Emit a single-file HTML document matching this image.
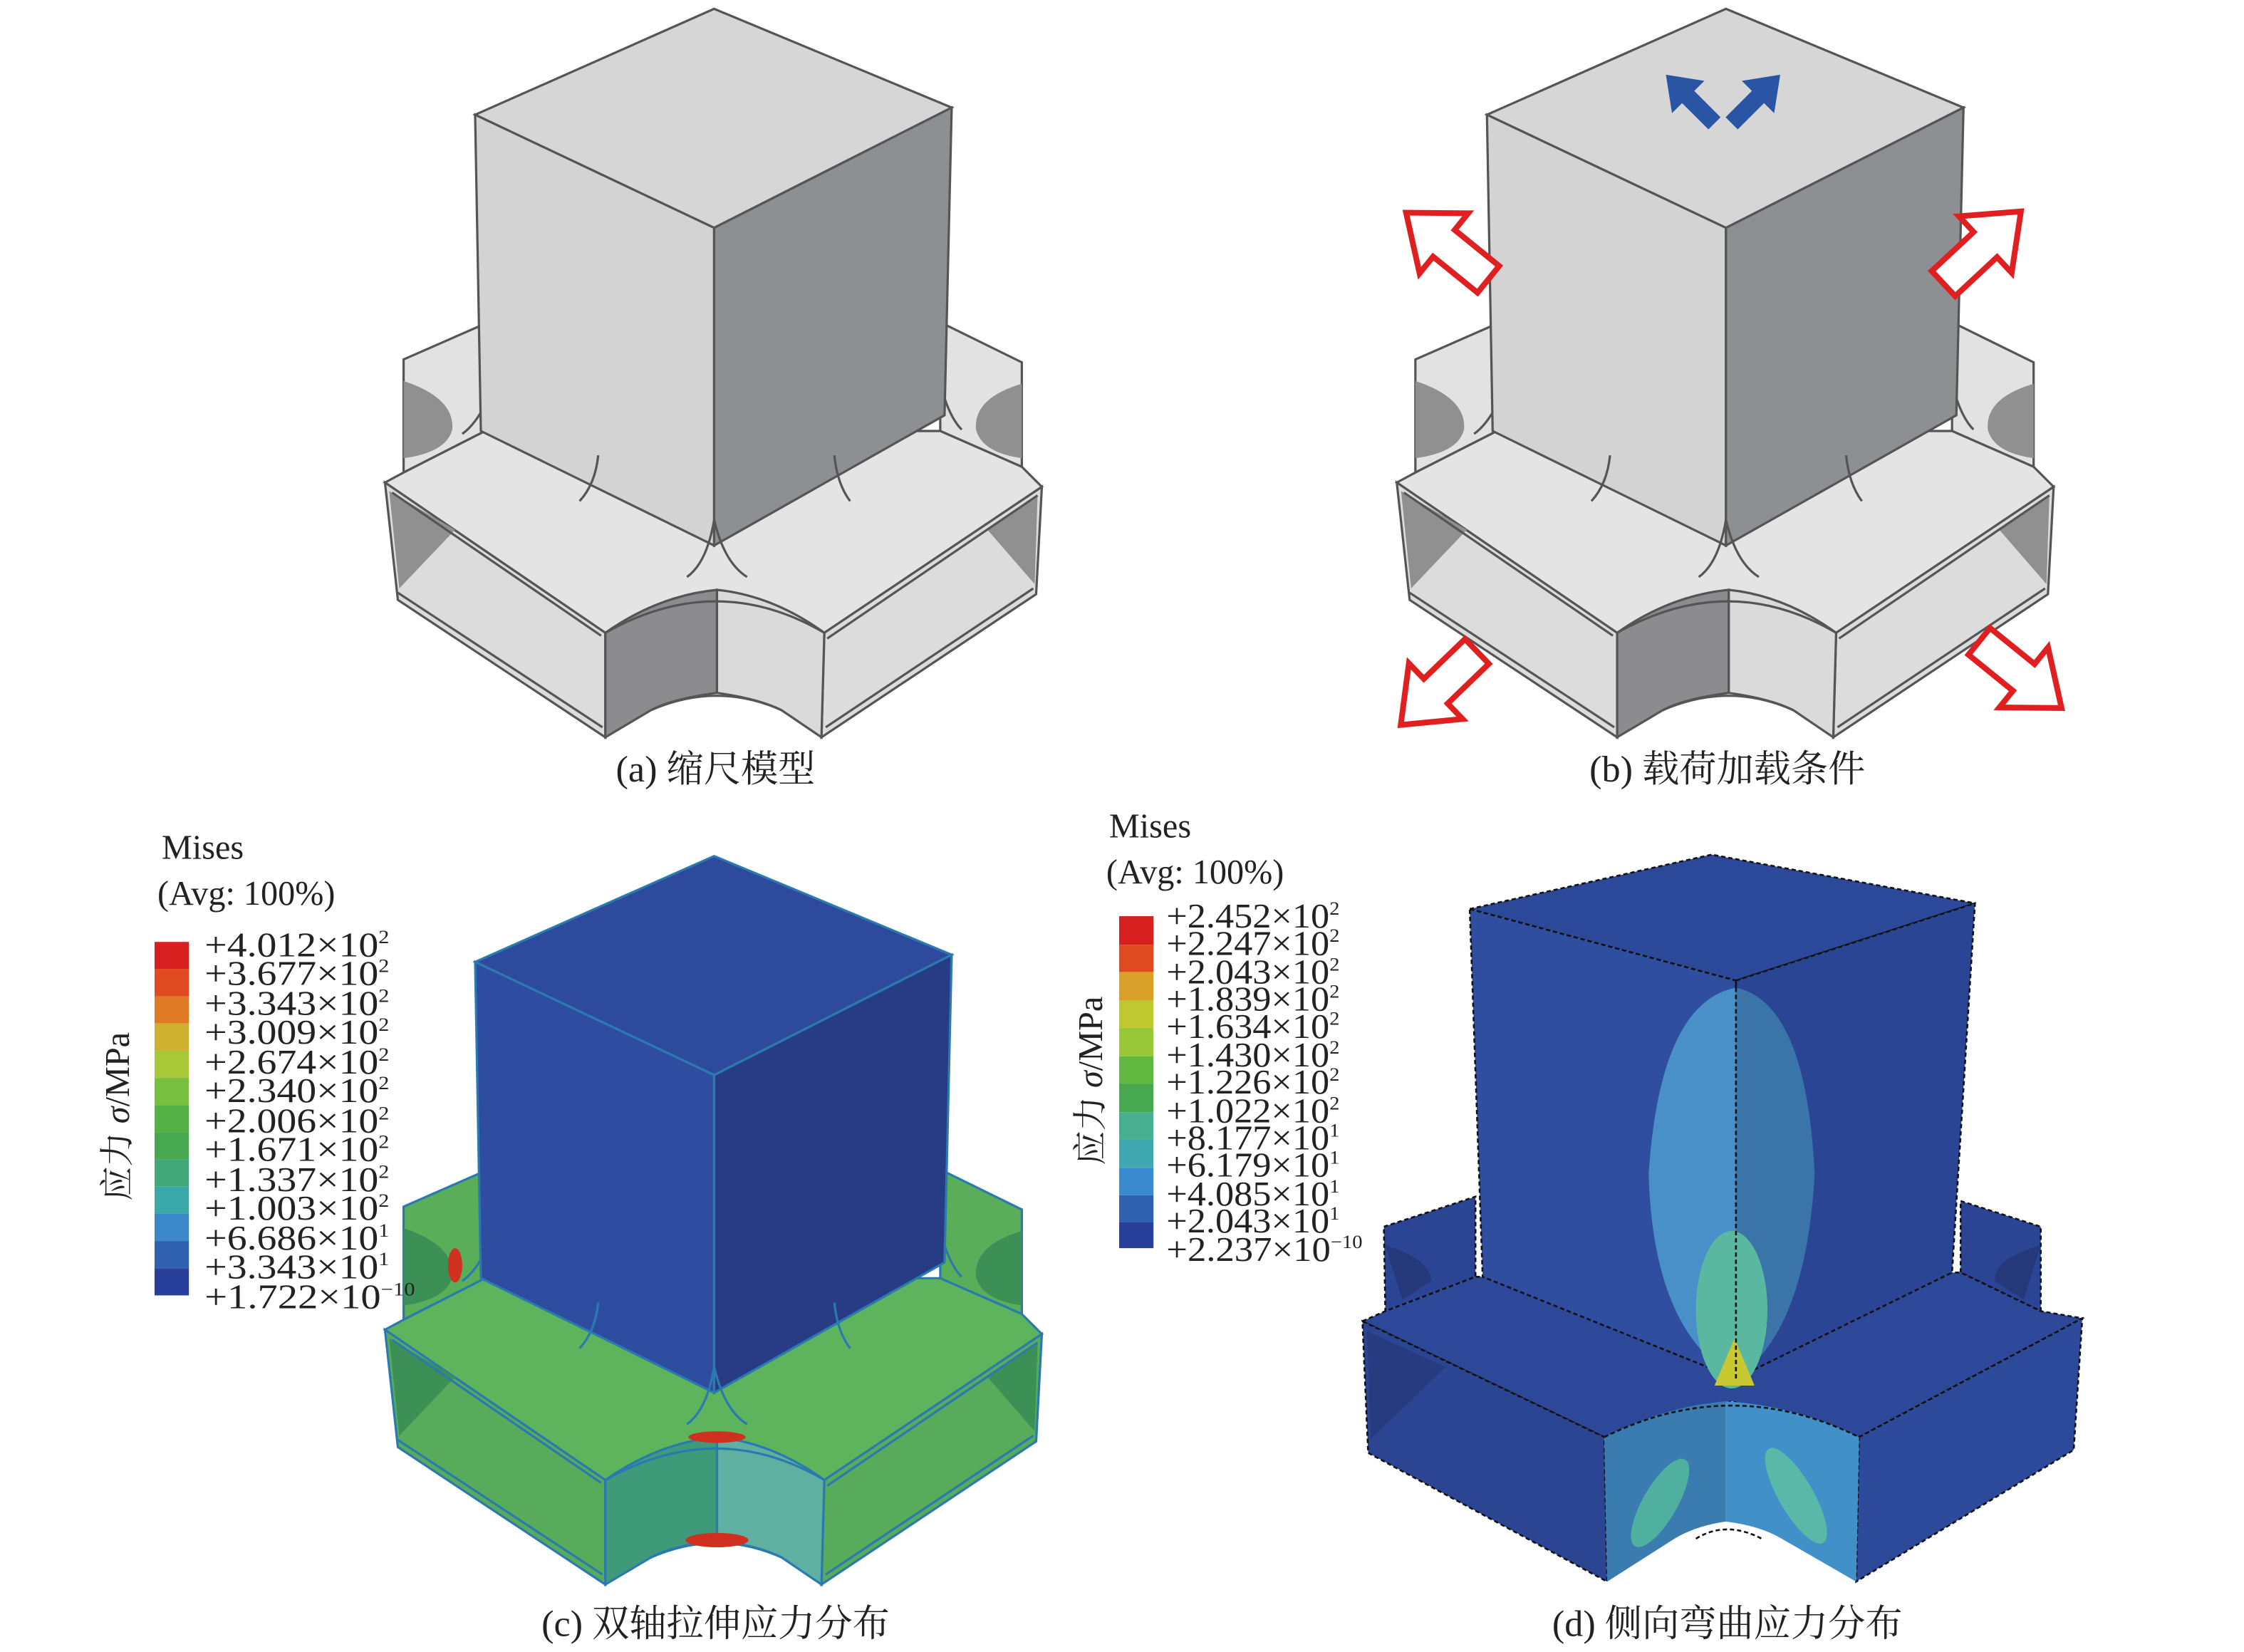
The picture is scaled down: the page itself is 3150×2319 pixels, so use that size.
<!DOCTYPE html>
<html><head><meta charset="utf-8"><style>
html,body{margin:0;padding:0;background:#fff}
svg{display:block}
text{font-family:"Liberation Serif","Noto Serif CJK SC",serif;fill:#222}
.bt{fill:var(--bt)} .ff{fill:var(--ff)} .nd{fill:var(--nd)} .nl{fill:var(--nl)} .in{fill:var(--in)}
.xt{fill:var(--xt)} .xl{fill:var(--xl)} .xr{fill:var(--xr)} .ef2{fill:var(--ef)}
.e{stroke:var(--ed);stroke-width:1.6;fill:none}
.ef{stroke:var(--ed);stroke-width:1.6}
</style></head><body>
<svg width="3150" height="2319" viewBox="0 0 1568 1154" xmlns="http://www.w3.org/2000/svg">
<defs>
<g id="model">
  <polygon class="ef2 ef" points="282,843 339,818 339,893 282,922"/>
  <polygon class="ef2 ef" points="657,817 714,845 714,918 657,893"/>
  <path class="in" d="M282,858 Q318,870 316,892 Q312,908 282,912 Z"/>
  <path class="in" d="M714,860 Q680,870 682,892 Q686,908 714,912 Z"/>
  <polygon class="bt ef" points="269,929 282,922 339,893 657,893 714,918 728,932 576,1034 501,1004 423,1034"/>
  <polygon class="ff ef" points="269,929 423,1034 423,1107 278,1011"/>
  <polygon class="in" points="272,935 318,962 279,1003"/>
  <path class="e" d="M274,936 L420,1036 M278,1006 L421,1100"/>
  <polygon class="ff ef" points="576,1034 728,932 724,1007 574,1107"/>
  <polygon class="in" points="725,938 690,962 723,1000"/>
  <path class="e" d="M578,1038 L725,938 M577,1100 L722,1003"/>
  <path class="nd ef" d="M423,1034 Q460,1008 501,1004 L501,1076 Q470,1080 455,1088 L423,1107 Z"/>
  <path class="nl ef" d="M501,1004 Q540,1008 576,1034 L574,1107 L546,1088 Q530,1080 501,1076 Z"/>
  <path class="e" d="M455,1088 Q501,1068 546,1088"/>
  <path class="e" d="M423,1034 Q501,990 576,1034" stroke-width="2.5"/>
  <polygon class="xt ef" points="332,672 499,598 665,667 499,751"/>
  <polygon class="xl ef" points="332,672 499,751 499,973 336,893"/>
  <polygon class="xr ef" points="499,751 665,667 660,882 499,973"/>
  <path class="e" stroke-width="3" d="M499,955 Q494,985 480,995 M499,955 Q506,985 522,995 M418,910 Q416,930 405,942 M583,910 Q585,930 594,942 M336,880 Q330,890 323,895 M660,870 Q665,885 672,892"/>
</g>
<g id="arrowOut">
  <polygon points="0,-12 40,-12 40,-27 74,0 40,27 40,12 0,12" fill="#fff" stroke="#e02020" stroke-width="4" stroke-linejoin="miter"/>
</g>
<g id="arrowBlue">
  <polygon points="0,-6 26,-6 26,-16 48,0 26,16 26,6 0,6" fill="#2a55a5"/>
</g>
</defs>

<use href="#model" transform="translate(0,-592)" style="--bt:#e4e4e4;--ff:#dcdcdc;--ef:#e2e2e2;--nd:#8c8c8e;--nl:#dadada;--in:#909090;--xt:#d6d6d6;--xl:#d3d3d3;--xr:#8e8f93;--ed:#555"/>
<text x="500" y="546" font-size="26" text-anchor="middle">(a) 缩尺模型</text>

<use href="#model" transform="translate(707,-592)" style="--bt:#e4e4e4;--ff:#dcdcdc;--ef:#e2e2e2;--nd:#8c8c8e;--nl:#dadada;--in:#909090;--xt:#d6d6d6;--xl:#d3d3d3;--xr:#8e8f93;--ed:#555"/>
<use href="#arrowOut" transform="translate(1040,195) rotate(-141)"/>
<use href="#arrowOut" transform="translate(1358,198) rotate(-43)"/>
<use href="#arrowOut" transform="translate(1032,455) rotate(136)"/>
<use href="#arrowOut" transform="translate(1383,448) rotate(39)"/>
<use href="#arrowBlue" transform="translate(1198,86) rotate(-135)"/>
<use href="#arrowBlue" transform="translate(1210,86) rotate(-45)"/>
<text x="1207" y="546" font-size="26" text-anchor="middle">(b) 载荷加载条件</text>

<use href="#model" style="--bt:#5db45c;--ff:#58ab5b;--ef:#5aae5a;--nd:#3f9a7a;--nl:#5fb0a0;--in:#3c8f55;--xt:#2e4a9c;--xl:#2f4da0;--xr:#283c86;--ed:#2a7ab0"/>
<ellipse cx="501" cy="1004" rx="20" ry="4" fill="#d03020"/>
<ellipse cx="501" cy="1076" rx="22" ry="5" fill="#d03020"/>
<ellipse cx="318" cy="884" rx="5" ry="12" fill="#d03020"/>
<text x="113" y="600" font-size="24">Mises</text>
<text x="110" y="632" font-size="24">(Avg: 100%)</text>
<text transform="translate(90,780) rotate(-90)" font-size="24" text-anchor="middle">应力 <tspan font-style="italic">σ</tspan>/MPa</text>
<g>
<rect x="108" y="658" width="24" height="19" fill="#d62020"/>
<rect x="108" y="677" width="24" height="19" fill="#e04a20"/>
<rect x="108" y="696" width="24" height="19" fill="#e07a25"/>
<rect x="108" y="715" width="24" height="19" fill="#d0b030"/>
<rect x="108" y="734" width="24" height="19" fill="#a8c838"/>
<rect x="108" y="753" width="24" height="19" fill="#78c040"/>
<rect x="108" y="772" width="24" height="19" fill="#55b045"/>
<rect x="108" y="791" width="24" height="19" fill="#48a850"/>
<rect x="108" y="810" width="24" height="19" fill="#40a878"/>
<rect x="108" y="829" width="24" height="19" fill="#3aa8a8"/>
<rect x="108" y="848" width="24" height="19" fill="#3a88c8"/>
<rect x="108" y="867" width="24" height="19" fill="#3060b0"/>
<rect x="108" y="886" width="24" height="19" fill="#28409a"/>
</g>
<g font-size="24">
<text x="143" y="668" textLength="129" lengthAdjust="spacingAndGlyphs">+4.012×10<tspan font-size="13" dy="-9">2</tspan></text>
<text x="143" y="688" textLength="129" lengthAdjust="spacingAndGlyphs">+3.677×10<tspan font-size="13" dy="-9">2</tspan></text>
<text x="143" y="709" textLength="129" lengthAdjust="spacingAndGlyphs">+3.343×10<tspan font-size="13" dy="-9">2</tspan></text>
<text x="143" y="729" textLength="129" lengthAdjust="spacingAndGlyphs">+3.009×10<tspan font-size="13" dy="-9">2</tspan></text>
<text x="143" y="750" textLength="129" lengthAdjust="spacingAndGlyphs">+2.674×10<tspan font-size="13" dy="-9">2</tspan></text>
<text x="143" y="770" textLength="129" lengthAdjust="spacingAndGlyphs">+2.340×10<tspan font-size="13" dy="-9">2</tspan></text>
<text x="143" y="791" textLength="129" lengthAdjust="spacingAndGlyphs">+2.006×10<tspan font-size="13" dy="-9">2</tspan></text>
<text x="143" y="811" textLength="129" lengthAdjust="spacingAndGlyphs">+1.671×10<tspan font-size="13" dy="-9">2</tspan></text>
<text x="143" y="832" textLength="129" lengthAdjust="spacingAndGlyphs">+1.337×10<tspan font-size="13" dy="-9">2</tspan></text>
<text x="143" y="852" textLength="129" lengthAdjust="spacingAndGlyphs">+1.003×10<tspan font-size="13" dy="-9">2</tspan></text>
<text x="143" y="873" textLength="129" lengthAdjust="spacingAndGlyphs">+6.686×10<tspan font-size="13" dy="-9">1</tspan></text>
<text x="143" y="893" textLength="129" lengthAdjust="spacingAndGlyphs">+3.343×10<tspan font-size="13" dy="-9">1</tspan></text>
<text x="143" y="914" textLength="147" lengthAdjust="spacingAndGlyphs">+1.722×10<tspan font-size="13" dy="-9">−10</tspan></text>
</g>
<text x="500" y="1143" font-size="26" text-anchor="middle">(c) 双轴拉伸应力分布</text>

<g stroke="#111" stroke-width="1.3" stroke-dasharray="3,2">
<polygon points="967,857 1031,836 1031,892 968,916" fill="#2b4494"/>
<polygon points="1370,839 1426,857 1426,916 1370,889" fill="#2b4494"/>
<polygon points="952,923 968,916 1031,892 1370,889 1426,916 1455,921 1299,1004 1210,979 1121,1004" fill="#2d4898"/>
<polygon points="952,923 1121,1004 1123,1105 956,1015" fill="#2b4592"/>
<polygon points="1299,1004 1455,921 1449,1013 1297,1105" fill="#2d4a9a"/>
</g>
<path d="M968,870 Q1000,880 1000,895 L980,908 Z" fill="#24387a"/>
<path d="M1426,870 Q1392,880 1394,895 L1414,908 Z" fill="#24387a"/>
<polygon points="955,930 1010,955 958,1005" fill="#263b80"/>
<path d="M1121,1004 Q1165,982 1206,979 L1206,1063 Q1185,1066 1170,1075 L1123,1105 Z" fill="#3a7bb0"/>
<path d="M1206,979 Q1255,982 1299,1004 L1297,1105 L1245,1075 Q1230,1066 1206,1063 Z" fill="#4290c8"/>
<ellipse cx="1160" cy="1050" rx="12" ry="35" fill="#4fb0a0" transform="rotate(30 1160 1050)"/>
<ellipse cx="1255" cy="1045" rx="12" ry="38" fill="#5ab8a8" transform="rotate(-30 1255 1045)"/>
<path d="M1121,1004 Q1210,960 1299,1004" stroke="#111" stroke-width="1.3" stroke-dasharray="3,2" fill="none"/>
<path d="M1185,1075 Q1206,1062 1231,1075" stroke="#111" stroke-width="1.3" stroke-dasharray="3,2" fill="none"/>
<g stroke="#111" stroke-width="1.3" stroke-dasharray="3,2">
<polygon points="1027,635 1196,597 1380,631 1213,685" fill="#2c4898"/>
<polygon points="1027,635 1213,685 1213,963 1036,892" fill="#2f4ea0"/>
<polygon points="1213,685 1380,631 1364,889 1213,963" fill="#2a4594"/>
</g>
<path d="M1213,690 Q1160,700 1152,820 Q1155,930 1213,963 Z" fill="#4a90c8"/>
<path d="M1213,690 Q1262,700 1268,820 Q1262,930 1213,963 Z" fill="#3b74a8"/>
<ellipse cx="1210" cy="915" rx="25" ry="55" fill="#5ab8a0"/>
<polygon points="1198,968 1212,935 1226,968" fill="#c8c830"/>
<line x1="1213" y1="685" x2="1213" y2="963" stroke="#111" stroke-width="1.3" stroke-dasharray="3,2"/>
<text x="775" y="585" font-size="24">Mises</text>
<text x="773" y="617" font-size="24">(Avg: 100%)</text>
<text transform="translate(770,755) rotate(-90)" font-size="24" text-anchor="middle">应力 <tspan font-style="italic">σ</tspan>/MPa</text>
<g>
<rect x="782" y="640" width="24" height="20" fill="#d62020"/>
<rect x="782" y="660" width="24" height="19" fill="#e04a20"/>
<rect x="782" y="679" width="24" height="20" fill="#d8a028"/>
<rect x="782" y="699" width="24" height="19" fill="#c0c830"/>
<rect x="782" y="718" width="24" height="20" fill="#98c838"/>
<rect x="782" y="738" width="24" height="19" fill="#60b840"/>
<rect x="782" y="757" width="24" height="20" fill="#48a850"/>
<rect x="782" y="777" width="24" height="19" fill="#48b090"/>
<rect x="782" y="796" width="24" height="20" fill="#40a8b0"/>
<rect x="782" y="816" width="24" height="19" fill="#3a8ad0"/>
<rect x="782" y="835" width="24" height="19" fill="#3060b0"/>
<rect x="782" y="854" width="24" height="18" fill="#28409a"/>
</g>
<g font-size="24">
<text x="815" y="648" textLength="121" lengthAdjust="spacingAndGlyphs">+2.452×10<tspan font-size="13" dy="-9">2</tspan></text>
<text x="815" y="667" textLength="121" lengthAdjust="spacingAndGlyphs">+2.247×10<tspan font-size="13" dy="-9">2</tspan></text>
<text x="815" y="687" textLength="121" lengthAdjust="spacingAndGlyphs">+2.043×10<tspan font-size="13" dy="-9">2</tspan></text>
<text x="815" y="706" textLength="121" lengthAdjust="spacingAndGlyphs">+1.839×10<tspan font-size="13" dy="-9">2</tspan></text>
<text x="815" y="725" textLength="121" lengthAdjust="spacingAndGlyphs">+1.634×10<tspan font-size="13" dy="-9">2</tspan></text>
<text x="815" y="745" textLength="121" lengthAdjust="spacingAndGlyphs">+1.430×10<tspan font-size="13" dy="-9">2</tspan></text>
<text x="815" y="764" textLength="121" lengthAdjust="spacingAndGlyphs">+1.226×10<tspan font-size="13" dy="-9">2</tspan></text>
<text x="815" y="784" textLength="121" lengthAdjust="spacingAndGlyphs">+1.022×10<tspan font-size="13" dy="-9">2</tspan></text>
<text x="815" y="803" textLength="121" lengthAdjust="spacingAndGlyphs">+8.177×10<tspan font-size="13" dy="-9">1</tspan></text>
<text x="815" y="822" textLength="121" lengthAdjust="spacingAndGlyphs">+6.179×10<tspan font-size="13" dy="-9">1</tspan></text>
<text x="815" y="842" textLength="121" lengthAdjust="spacingAndGlyphs">+4.085×10<tspan font-size="13" dy="-9">1</tspan></text>
<text x="815" y="861" textLength="121" lengthAdjust="spacingAndGlyphs">+2.043×10<tspan font-size="13" dy="-9">1</tspan></text>
<text x="815" y="881" textLength="137" lengthAdjust="spacingAndGlyphs">+2.237×10<tspan font-size="13" dy="-9">−10</tspan></text>
</g>
<text x="1207" y="1143" font-size="26" text-anchor="middle">(d) 侧向弯曲应力分布</text>
</svg>
</body></html>
